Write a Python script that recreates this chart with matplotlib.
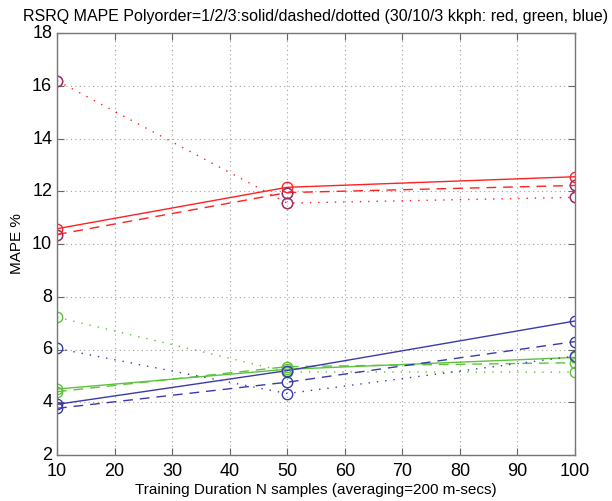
import matplotlib
matplotlib.use("Agg")
import matplotlib.pyplot as plt
import matplotlib.transforms as mtransforms

plt.rcParams['font.family'] = ['Liberation Sans', 'DejaVu Sans']

# training duration (samples)
n_samples = [10, 50, 100]

# MAPE % per speed, polyorder 1/2/3 = solid/dashed/dotted
red_p1 = [10.58, 12.15, 12.55]
red_p2 = [10.36, 11.95, 12.22]
red_p3 = [16.19, 11.55, 11.77]

green_p1 = [4.50, 5.25, 5.70]
green_p2 = [4.40, 5.35, 5.50]
green_p3 = [7.22, 5.15, 5.14]

blue_p1 = [3.92, 5.20, 7.08]
blue_p2 = [3.77, 4.76, 6.30]
blue_p3 = [6.04, 4.33, 5.75]

title = "RSRQ MAPE Polyorder=1/2/3:solid/dashed/dotted (30/10/3 kkph: red, green, blue)"
x_ticks = [10, 20, 30, 40, 50, 60, 70, 80, 90, 100]
y_ticks = [2, 4, 6, 8, 10, 12, 14, 16, 18]

RED = '#ff2020'
GREEN = '#5cc43a'
BLUE = '#3a3aaa'

fig = plt.figure(figsize=(6.12, 5.01), dpi=100)
ax = fig.add_axes([57 / 612, 46 / 501, 518 / 612, 422 / 501])

styles = ['-', (0, (7, 5)), (0, (1, 5))]
for color, series in [(RED, [red_p1, red_p2, red_p3]),
                      (GREEN, [green_p1, green_p2, green_p3]),
                      (BLUE, [blue_p1, blue_p2, blue_p3])]:
    for ls, y in zip(styles, series):
        ax.plot(n_samples, y, linestyle=ls, color=color, lw=1.0)

# circle markers; red polyorder 2/3 markers carry a blue ring underneath
for y in [red_p2, red_p3]:
    ax.plot(n_samples, y, 'o', mfc='none', mec=BLUE, ms=7.5, mew=1.0)
    ax.plot(n_samples, y, 'o', mfc='none', mec=RED, ms=7.5, mew=1.0, alpha=0.55)
ax.plot(n_samples, red_p1, 'o', mfc='none', mec=RED, ms=7.5, mew=1.0)
for y in [green_p1, green_p2, green_p3]:
    ax.plot(n_samples, y, 'o', mfc='none', mec=GREEN, ms=7.5, mew=1.0)
for y in [blue_p1, blue_p2, blue_p3]:
    ax.plot(n_samples, y, 'o', mfc='none', mec=BLUE, ms=7.5, mew=1.0)

ax.set_xlim(10, 100)
ax.set_ylim(2, 18)
ax.set_xticks(x_ticks)
ax.set_yticks(y_ticks)
ax.grid(True, linestyle=(0, (1, 3)), color='#a0a0a0', lw=0.8)
ax.tick_params(direction='in', length=5, labelsize=13, top=True, right=True,
               color='#666666')
ax.tick_params(axis='x', pad=6)
for s in ax.spines.values():
    s.set_color('#777777')
    s.set_linewidth(1.0)

# lift y tick labels a touch so "2" clears the "10" below it
lift = mtransforms.ScaledTranslation(0, 1.5 / 100, fig.dpi_scale_trans)
for lbl in ax.get_yticklabels():
    lbl.set_transform(lbl.get_transform() + lift)

ax.set_xlabel('Training Duration N samples (averaging=200 m-secs)', fontsize=11, labelpad=2)
ax.set_ylabel('MAPE %', fontsize=11, labelpad=6)
ax.set_title(title, fontsize=11.5, pad=9)

fig.savefig('out.png', dpi=100)
